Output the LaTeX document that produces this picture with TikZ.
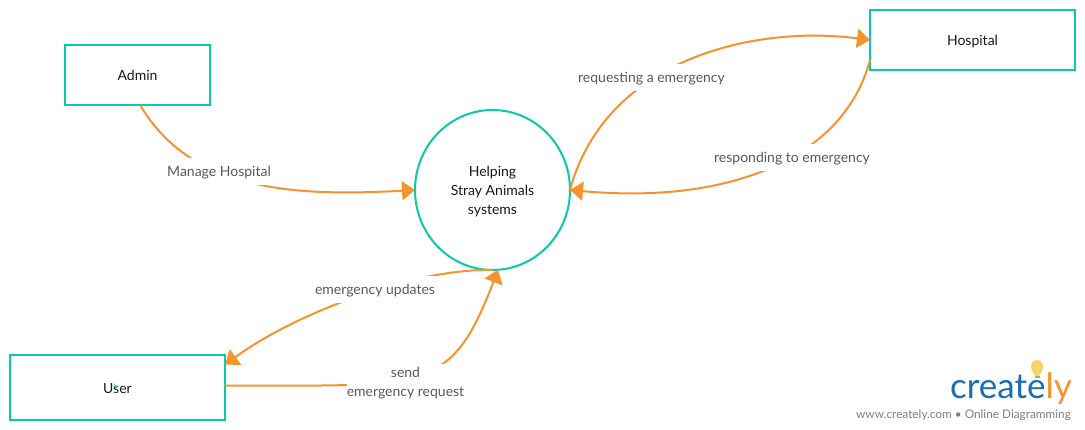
\documentclass[tikz,border=0pt]{standalone}
\usepackage{fontspec}
\setmainfont{Lato}
\usetikzlibrary{arrows.meta,shapes.geometric}
\definecolor{tealline}{HTML}{0BC9AB}
\definecolor{flowline}{HTML}{F7932E}
\definecolor{labelgray}{HTML}{5A5A5A}
\definecolor{logoblue}{HTML}{1B6DB5}
\definecolor{bulbyellow}{HTML}{F7D368}
\tikzset{
	entity/.style={shape=rectangle,draw=tealline,line width=2pt,outer sep=0pt,inner sep=0pt,text=black!90,text height=15pt,text depth=3pt,font=\fontsize{14}{19}\selectfont},
	process/.style={shape=ellipse,draw=tealline,line width=2pt,outer sep=0pt,inner sep=0pt,minimum width=155pt,minimum height=160pt,text=black!90,font=\fontsize{14}{19}\selectfont,align=center},
	flow/.style={draw=flowline,line width=2pt,-{Triangle[length=13pt,width=19pt]}},
	flowlabel/.style={fill=white,text=labelgray,inner xsep=0pt,inner ysep=0pt,text height=18pt,text depth=9pt,font=\fontsize{14}{19}\selectfont},
	flowlabels/.style={fill=white,text=labelgray,inner xsep=0pt,inner ysep=3pt,font=\fontsize{14}{19}\selectfont,align=center},
}
\begin{document}
\begin{tikzpicture}[x=1pt,y=-1pt]
	\path[use as bounding box,fill=white] (0,0) rectangle (1085,430);

	\node[entity,minimum width=145pt,minimum height=60pt] (admin) at (137.5,75) {Admin};
	\node[entity,minimum width=205pt,minimum height=60pt] (hospital) at (972.5,40) {Hospital};
	\node[entity,minimum width=215pt,minimum height=65pt] (user) at (117.5,387.5) {User};
	\node[process] (system) at (492.5,190) {\rule{0pt}{13pt}Helping\\Stray Animals\\systems};

	\draw[flow] (admin.275) .. controls (190,190) and (290,197) .. (system.west);
	\draw[flow] (system.east) .. controls (606,58) and (755,25) .. (hospital.west);
	\draw[flow] (hospital.191) .. controls (845,155) and (735,205) .. (system.east);
	\draw[flow] (system.south) .. controls (420,268) and (300,310) .. (user.12);
	\draw[flow] (user.1.3) .. controls (426,385) and (450,395) .. (system.274);

	\node[flowlabel] (manage) at (219,172) {Manage Hospital};
	\node[flowlabel] (request) at (651.5,78) {requesting a emergency};
	\node[flowlabel] (respond) at (792,158) {responding to emergency};
	\node[flowlabel] (updates) at (375,290) {emergency updates};
	\node[flowlabels] (send) at (405.5,383) {send\\emergency request};

	\fill[tealline] (114,384) -- (118,387) -- (115.5,388.5) -- cycle;

	\fill[bulbyellow] (1031.2,369) -- (1034.8,376) -- (1039.2,376) -- (1042.8,369) -- cycle;
	\fill[bulbyellow] (1037,366) circle (6pt);
	\fill[black!35] (1034.5,376) rectangle (1039.5,378.5);
	\node[inner sep=0pt,anchor=base east,font=\fontsize{35}{35}\selectfont] (logo) at (1072,399) {\textcolor{logoblue}{create}\textcolor{flowline}{ly}};
	\node[inner sep=0pt,anchor=base east,text=gray,font=\fontsize{11.8}{13}\selectfont] (tagline) at (1071,418) {www.creately.com • Online Diagramming};
\end{tikzpicture}
\end{document}
